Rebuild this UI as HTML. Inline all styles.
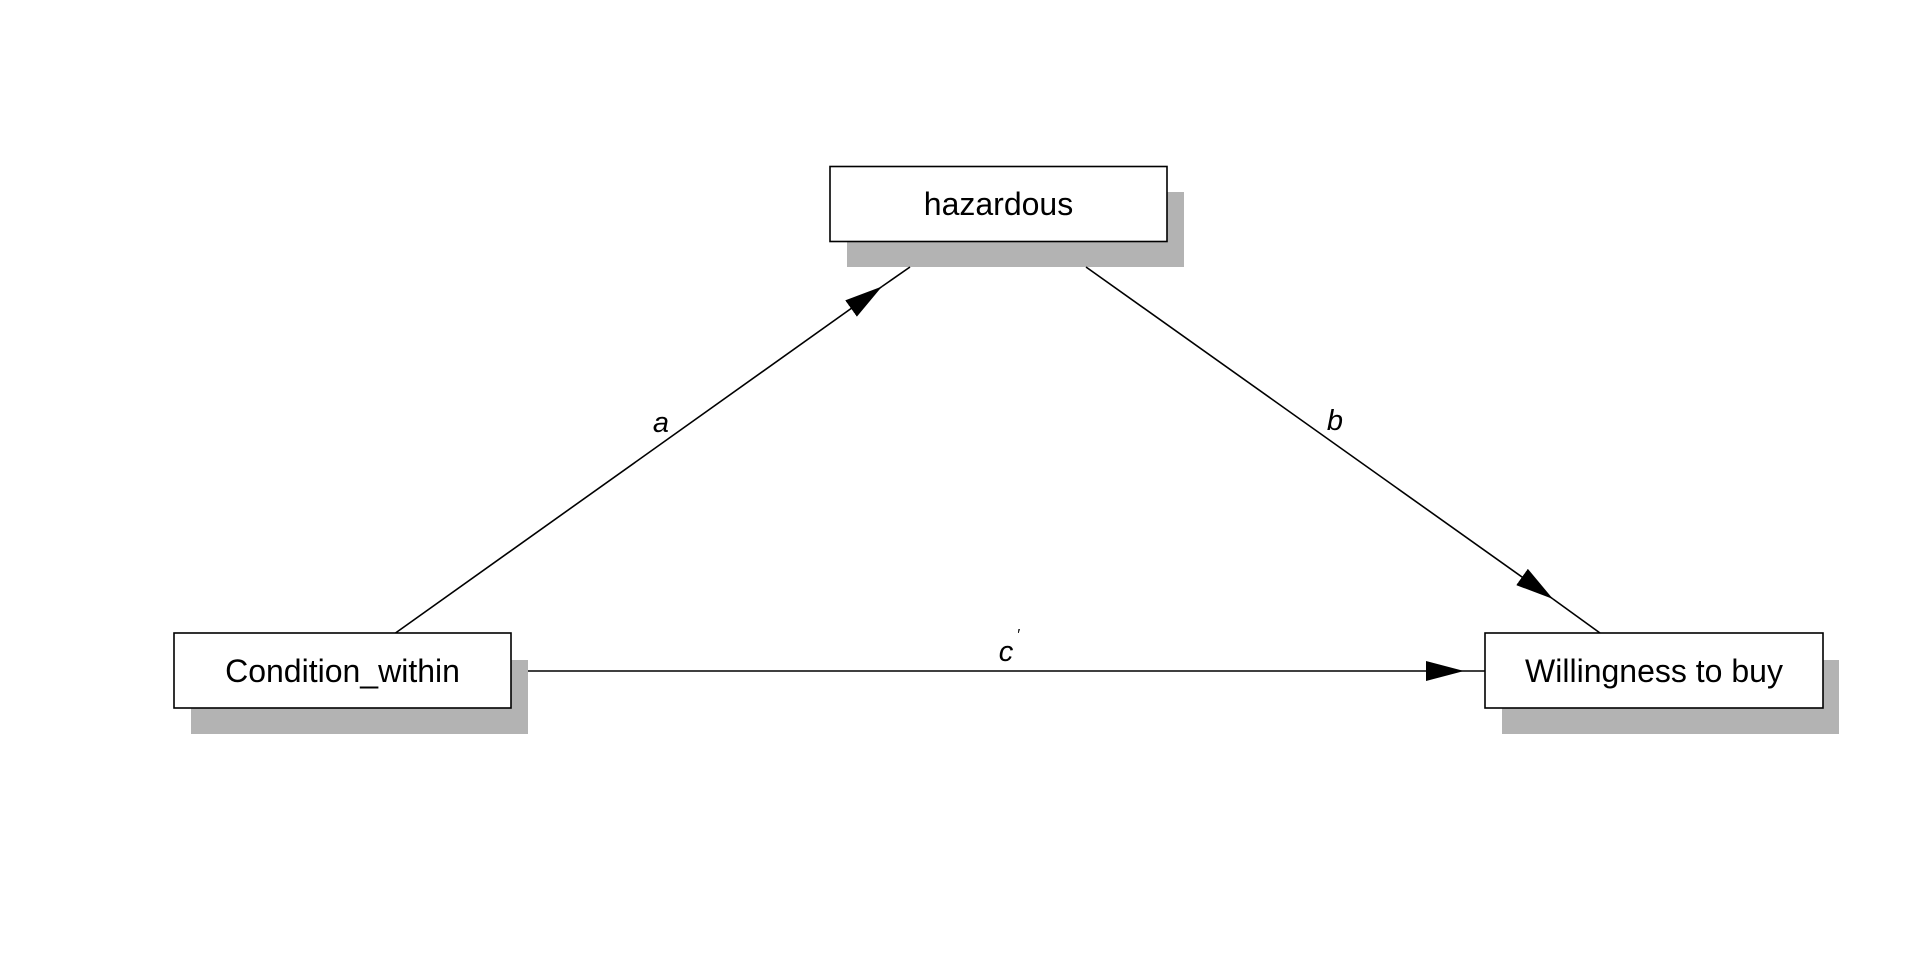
<!DOCTYPE html>
<html><head><meta charset="utf-8"><style>
html,body{margin:0;padding:0;background:#fff;}
svg{display:block;}
text{font-family:"Liberation Sans",Arial,sans-serif;}
</style></head><body>
<svg width="1920" height="960" viewBox="0 0 1920 960" xmlns="http://www.w3.org/2000/svg">
<defs>
<marker id="ar" markerWidth="38" markerHeight="20" refX="38" refY="10" orient="auto" markerUnits="userSpaceOnUse">
<path d="M0,0 L38,10 L0,20 Z" fill="#000"/>
</marker>
</defs>
<rect x="847" y="192" width="337" height="75" fill="#b3b3b3"/>
<rect x="191" y="660" width="337" height="74" fill="#b3b3b3"/>
<rect x="1502" y="660" width="337" height="74" fill="#b3b3b3"/>
<line x1="395.5" y1="633" x2="882" y2="286.5" stroke="#000" stroke-width="1.6" marker-end="url(#ar)"/>
<line x1="882" y1="286.5" x2="910" y2="267" stroke="#000" stroke-width="1.6"/>
<line x1="1086" y1="267" x2="1553" y2="599" stroke="#000" stroke-width="1.6" marker-end="url(#ar)"/>
<line x1="1553" y1="599" x2="1600" y2="633" stroke="#000" stroke-width="1.6"/>
<line x1="528" y1="671" x2="1464" y2="671" stroke="#000" stroke-width="1.6" marker-end="url(#ar)"/>
<line x1="1464" y1="671" x2="1485" y2="671" stroke="#000" stroke-width="1.6"/>
<rect x="830" y="166.5" width="337" height="75" fill="#fff" stroke="#000" stroke-width="1.6"/>
<rect x="174" y="633" width="337" height="75" fill="#fff" stroke="#000" stroke-width="1.6"/>
<rect x="1485" y="633" width="338" height="75" fill="#fff" stroke="#000" stroke-width="1.6"/>
<text x="998.5" y="215" font-size="32" text-anchor="middle">hazardous</text>
<text x="342.5" y="682" font-size="32" text-anchor="middle">Condition_within</text>
<text x="1654" y="682" font-size="32" text-anchor="middle">Willingness to buy</text>
<text x="661" y="432" font-size="29" font-style="italic" text-anchor="middle">a</text>
<text x="1335" y="430" font-size="29" font-style="italic" text-anchor="middle">b</text>
<text x="1006" y="661" font-size="29" font-style="italic" text-anchor="middle">c</text>
<text x="1018" y="640" font-size="16" font-style="italic" text-anchor="middle">′</text>
</svg>
</body></html>
